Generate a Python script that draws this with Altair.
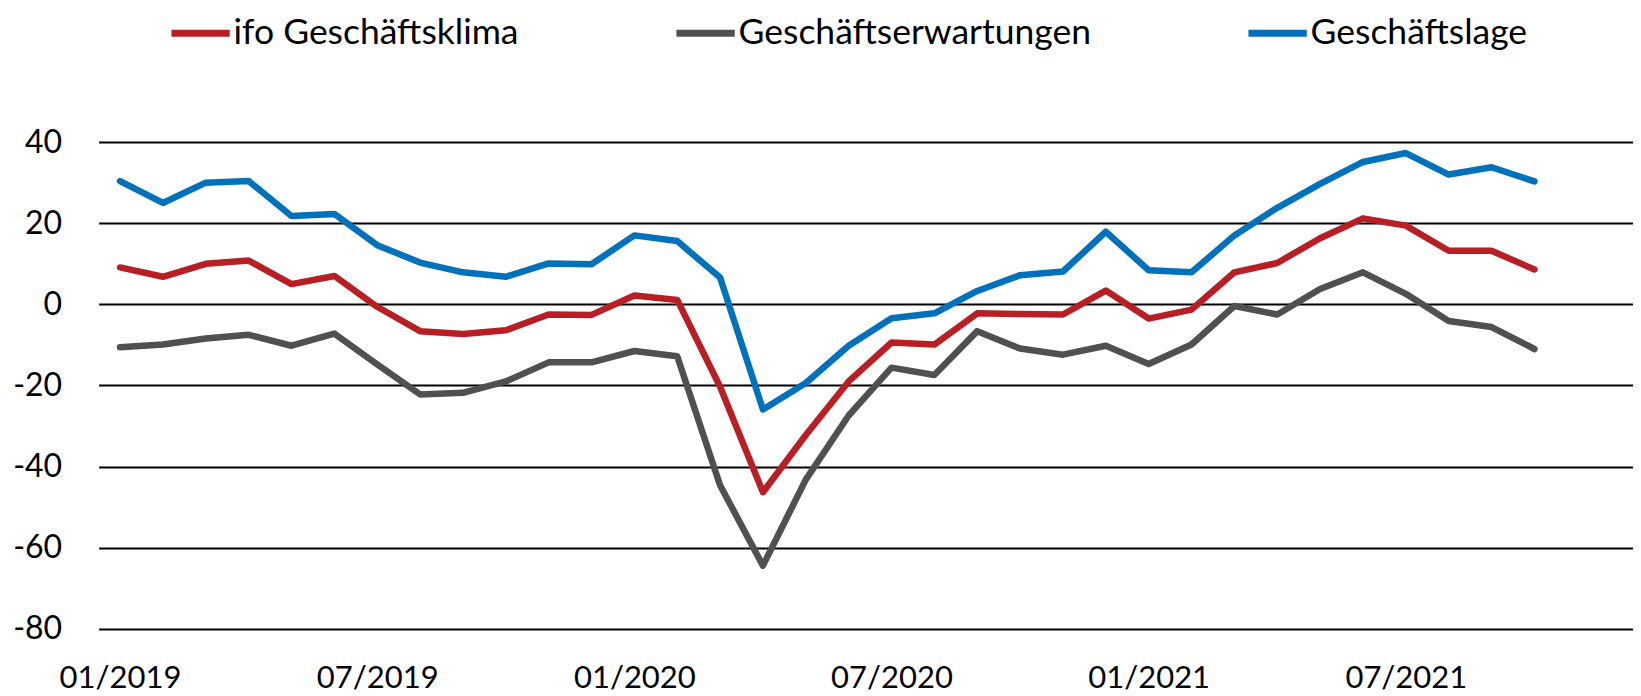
import altair as alt
import pandas as pd

months = [
    "01/2019", "02/2019", "03/2019", "04/2019", "05/2019", "06/2019",
    "07/2019", "08/2019", "09/2019", "10/2019", "11/2019", "12/2019",
    "01/2020", "02/2020", "03/2020", "04/2020", "05/2020", "06/2020",
    "07/2020", "08/2020", "09/2020", "10/2020", "11/2020", "12/2020",
    "01/2021", "02/2021", "03/2021", "04/2021", "05/2021", "06/2021",
    "07/2021", "08/2021", "09/2021", "10/2021",
]

geschaeftsklima = [
    9.1, 6.8, 10.0, 10.8, 5.0, 7.0, -0.6, -6.6, -7.3, -6.4, -2.5, -2.6,
    2.2, 1.1, -20.3, -46.3, -32.2, -19.0, -9.4, -9.9, -2.2, -2.4, -2.5, 3.4,
    -3.5, -1.3, 7.9, 10.2, 16.3, 21.2, 19.4, 13.2, 13.2, 8.6,
]
geschaeftserwartungen = [
    -10.6, -9.9, -8.4, -7.5, -10.2, -7.2, -14.8, -22.2, -21.8, -19.0, -14.3, -14.3,
    -11.5, -12.8, -44.6, -64.4, -43.2, -27.4, -15.6, -17.4, -6.6, -10.9, -12.4, -10.2,
    -14.7, -9.9, -0.4, -2.5, 3.8, 7.9, 2.6, -4.1, -5.6, -11.0,
]
geschaeftslage = [
    30.4, 25.0, 30.0, 30.4, 21.8, 22.3, 14.6, 10.3, 7.9, 6.8, 10.1, 9.9,
    17.0, 15.6, 6.6, -25.9, -19.4, -10.2, -3.4, -2.2, 3.3, 7.2, 8.1, 17.9,
    8.4, 7.9, 17.0, 23.8, 29.7, 35.1, 37.3, 32.0, 33.8, 30.3,
]

series_names = ["ifo Geschäftsklima", "Geschäftserwartungen", "Geschäftslage"]
series_colors = ["#B71F24", "#505050", "#0071BA"]

tick_positions = [0, 6, 12, 18, 24, 30]
tick_labels = ["01/2019", "07/2019", "01/2020", "07/2020", "01/2021", "07/2021"]
y_ticks = [-80, -60, -40, -20, 0, 20, 40]

rows = []
for name, vals in zip(series_names, [geschaeftsklima, geschaeftserwartungen, geschaeftslage]):
    for i, (m, v) in enumerate(zip(months, vals)):
        rows.append({"idx": i, "Monat": m, "Serie": name, "Wert": v})
df = pd.DataFrame(rows)

label_expr = "[" + ",".join("'%s'" % t for t in tick_labels) + "][round(datum.value / 6)]"

FONT = "Lato"

chart = (
    alt.Chart(df)
    .mark_line(strokeWidth=6.5, strokeCap="round", strokeJoin="round")
    .encode(
        x=alt.X(
            "idx:Q",
            scale=alt.Scale(domain=[-0.5, 35.3], nice=False, zero=False),
            axis=alt.Axis(
                values=tick_positions,
                labelExpr=label_expr,
                title=None,
                grid=False,
                domain=False,
                ticks=False,
                labelFontSize=31,
                labelFont=FONT,
                labelColor="#000000",
                labelPadding=35,
                labelFlush=False,
                labelOverlap=False,
            ),
        ),
        y=alt.Y(
            "Wert:Q",
            scale=alt.Scale(domain=[-80, 40], nice=False, zero=False),
            axis=alt.Axis(
                values=y_ticks,
                labelExpr="'' + datum.value",
                title=None,
                grid=True,
                gridColor="#000000",
                gridWidth=2,
                gridOpacity=1,
                domain=False,
                ticks=False,
                labelFontSize=32,
                labelFont=FONT,
                labelColor="#000000",
                labelPadding=37,
            ),
        ),
        color=alt.Color(
            "Serie:N",
            scale=alt.Scale(domain=series_names, range=series_colors),
            sort=series_names,
            legend=alt.Legend(
                title=None,
                orient="none",
                legendX=69,
                legendY=-142,
                direction="horizontal",
                symbolType="stroke",
                symbolSize=3400,
                symbolStrokeWidth=7,
                labelFontSize=35.5,
                labelFont=FONT,
                labelColor="#000000",
                labelLimit=1000,
                labelOffset=0,
                columnPadding=142,
                padding=0,
            ),
        ),
        order=alt.Order("idx:Q"),
    )
    .properties(
        width=1534.4,
        height=486.8,
        autosize=alt.AutoSizeParams(type="none"),
        padding={"left": 90.6, "top": 134.1, "right": 0, "bottom": 66},
    )
    .configure(background="#ffffff")
    .configure_view(strokeWidth=0, stroke="transparent")
)

chart.save("out.html", embed_options={"renderer": "svg", "actions": False})
